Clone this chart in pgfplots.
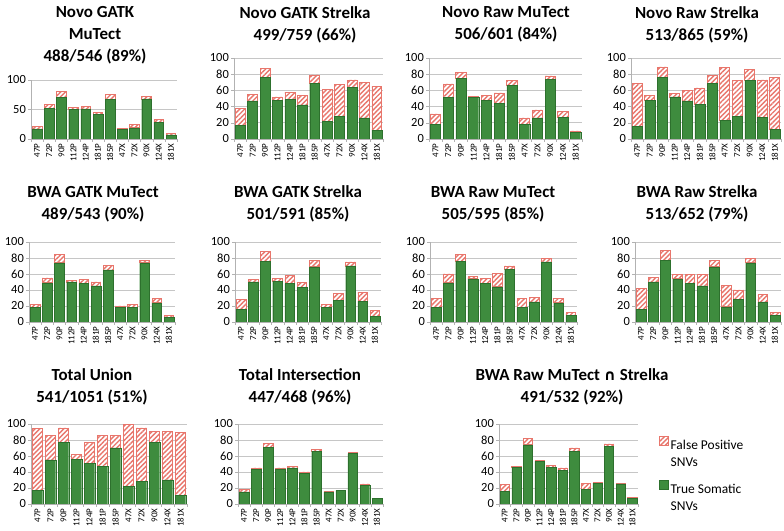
\documentclass[border=0pt]{standalone}
\usepackage{fontspec}
\setmainfont{Carlito}
\newfontfamily\symfont{DejaVu Sans}
\usepackage{pgfplots}
\pgfplotsset{compat=1.18}
\usetikzlibrary{patterns.meta}
\definecolor{tpgreen}{RGB}{62,140,62}
\definecolor{tpedge}{RGB}{45,112,45}
\definecolor{fpred}{RGB}{232,118,108}
\pgfplotsset{
 panel/.style={
  scale only axis,
  anchor=south west,
  ybar stacked,
  bar width=0.8,
  xmin=-0.5, xmax=11.5,
  ymin=0, ymax=100,
  xtick={0,...,11},
  xticklabels={47P,72P,90P,112P,124P,181P,185P,47X,72X,90X,124X,181X},
  x tick label style={rotate=90, anchor=east, font=\fontsize{9}{9}\selectfont, inner sep=1.5pt},
  y tick label style={font=\fontsize{12.5}{13}\selectfont, inner sep=2pt},
  /pgf/number format/assume math mode=true,
  axis x line*=bottom,
  axis y line*=left,
  axis line style={gray!60, line width=0.6pt},
  ymajorgrids,
  grid style={gray!45, line width=0.6pt},
  tick align=outside,
  major tick length=3pt,
  minor tick length=3pt,
  major x tick style={draw=none},
  minor xtick={-0.5,0.5,...,11.5},
  minor x tick style={gray!60},
  ytick style={gray!60},
  ytick={0,20,...,100},
 },
 tp/.style={fill=tpgreen, draw=tpedge, line width=0.4pt},
 fp/.style={draw=fpred, line width=0.6pt, preaction={fill=white}, pattern={Lines[angle=45,distance=3.4pt,line width=1.4pt]}, pattern color=fpred},
}
\tikzset{ttl/.style={font=\fontsize{17}{22}\selectfont\bfseries, align=center, inner sep=0pt}}
\begin{document}
\begin{tikzpicture}[x=1bp,y=1bp]
\useasboundingbox (0,0) rectangle (784,531);
% ---------- Row 1 ----------
\node[ttl] at (95,495.5) {Novo GATK\\MuTect\\488/546 (89\%)};
\node[ttl] at (305,506.5) {Novo GATK Strelka\\499/759 (66\%)};
\node[ttl] at (506,506.5) {Novo Raw MuTect\\506/601 (84\%)};
\node[ttl] at (697,506.5) {Novo Raw Strelka\\513/865 (59\%)};

\begin{axis}[panel, at={(31bp,392bp)}, width=146bp, height=59bp, ytick={0,50,100}]
\addplot[tp] coordinates {(0,17) (1,52) (2,71) (3,50) (4,51) (5,42) (6,67) (7,16) (8,19) (9,68) (10,28) (11,7)};
\addplot[fp] coordinates {(0,4) (1,6) (2,10) (3,3) (4,4) (5,3) (6,9) (7,2) (8,6) (9,4) (10,5) (11,2)};
\end{axis}

\begin{axis}[panel, at={(234bp,392bp)}, width=149bp, height=81bp]
\addplot[tp] coordinates {(0,17) (1,47) (2,76) (3,48) (4,49) (5,42) (6,69) (7,22) (8,28) (9,64) (10,26) (11,11)};
\addplot[fp] coordinates {(0,21) (1,8) (2,11) (3,4) (4,9) (5,12) (6,10) (7,39) (8,39) (9,9) (10,44) (11,54)};
\end{axis}

\begin{axis}[panel, at={(429bp,392bp)}, width=153bp, height=81bp]
\addplot[tp] coordinates {(0,18) (1,51) (2,75) (3,51) (4,48) (5,44) (6,66) (7,18) (8,26) (9,74) (10,27) (11,8)};
\addplot[fp] coordinates {(0,13) (1,17) (2,7) (3,2) (4,6) (5,13) (6,6) (7,8) (8,10) (9,4) (10,7) (11,2)};
\end{axis}

\begin{axis}[panel, at={(631bp,392bp)}, width=150bp, height=81bp]
\addplot[tp] coordinates {(0,16) (1,48) (2,76) (3,52) (4,47) (5,43) (6,69) (7,23) (8,28) (9,72) (10,27) (11,12)};
\addplot[fp] coordinates {(0,53) (1,6) (2,13) (3,4) (4,13) (5,20) (6,10) (7,65) (8,44) (9,14) (10,46) (11,64)};
\end{axis}

% ---------- Row 2 ----------
\node[ttl] at (93,327) {BWA GATK MuTect\\489/543 (90\%)};
\node[ttl] at (298,327) {BWA GATK Strelka\\501/591 (85\%)};
\node[ttl] at (493,327) {BWA Raw MuTect\\505/595 (85\%)};
\node[ttl] at (697,327) {BWA Raw Strelka\\513/652 (79\%)};

\begin{axis}[panel, at={(29bp,209bp)}, width=146bp, height=80bp]
\addplot[tp] coordinates {(0,18) (1,49) (2,74) (3,50) (4,48) (5,45) (6,65) (7,18) (8,18) (9,74) (10,24) (11,6)};
\addplot[fp] coordinates {(0,4) (1,6) (2,10) (3,2) (4,5) (5,5) (6,6) (7,2) (8,4) (9,3) (10,5) (11,2)};
\end{axis}

\begin{axis}[panel, at={(235bp,209bp)}, width=146bp, height=80bp]
\addplot[tp] coordinates {(0,16) (1,50) (2,76) (3,51) (4,48) (5,43) (6,69) (7,18) (8,27) (9,70) (10,26) (11,7)};
\addplot[fp] coordinates {(0,12) (1,3) (2,12) (3,3) (4,10) (5,6) (6,8) (7,4) (8,9) (9,5) (10,11) (11,7)};
\end{axis}

\begin{axis}[panel, at={(430bp,209bp)}, width=147bp, height=80bp]
\addplot[tp] coordinates {(0,18) (1,49) (2,76) (3,54) (4,48) (5,44) (6,66) (7,18) (8,25) (9,75) (10,24) (11,8)};
\addplot[fp] coordinates {(0,11) (1,11) (2,8) (3,3) (4,6) (5,17) (6,4) (7,11) (8,6) (9,4) (10,5) (11,4)};
\end{axis}

\begin{axis}[panel, at={(635bp,209bp)}, width=146bp, height=80bp]
\addplot[tp] coordinates {(0,16) (1,50) (2,77) (3,54) (4,48) (5,45) (6,69) (7,19) (8,28) (9,74) (10,25) (11,8)};
\addplot[fp] coordinates {(0,26) (1,6) (2,12) (3,5) (4,11) (5,14) (6,8) (7,27) (8,12) (9,5) (10,9) (11,4)};
\end{axis}

% ---------- Row 3 ----------
\node[ttl] at (92,144) {Total Union\\541/1051 (51\%)};
\node[ttl] at (300,144) {Total Intersection\\447/468 (96\%)};
\node[ttl] at (572,144) {BWA Raw MuTect {\symfont\fontsize{15}{22}\selectfont\bfseries ∩} Strelka\\491/532 (92\%)};

\begin{axis}[panel, at={(31bp,27bp)}, width=156bp, height=80bp]
\addplot[tp] coordinates {(0,17) (1,55) (2,77) (3,56) (4,51) (5,47) (6,70) (7,22) (8,28) (9,77) (10,30) (11,11)};
\addplot[fp] coordinates {(0,77) (1,31) (2,18) (3,6) (4,26) (5,39) (6,16) (7,77) (8,67) (9,14) (10,61) (11,78)};
\end{axis}

\begin{axis}[panel, at={(238bp,27bp)}, width=145bp, height=80bp]
\addplot[tp] coordinates {(0,15) (1,43) (2,71) (3,44) (4,45) (5,38) (6,66) (7,15) (8,17) (9,63) (10,23) (11,7)};
\addplot[fp] coordinates {(0,3) (1,2) (2,5) (3,1) (4,2) (5,2) (6,2) (7,1) (8,0) (9,1) (10,2) (11,0)};
\end{axis}

\begin{axis}[panel, at={(499bp,27bp)}, width=139bp, height=80bp,
  reverse legend,
  legend style={at={(1.15,0.86)}, anchor=north west, draw=none, fill=none, inner sep=0pt,
    font=\fontsize{13.5}{17}\selectfont, row sep=27bp, cells={anchor=west}},
  legend image code/.code={\draw[#1] (0bp,-1bp) rectangle (9bp,8bp);}]
\addplot[tp] coordinates {(0,16) (1,46) (2,74) (3,53) (4,46) (5,42) (6,66) (7,18) (8,26) (9,72) (10,25) (11,7)};
\addlegendentry{\begin{tabular}[t]{@{}l@{}}True Somatic\\SNVs\end{tabular}}
\addplot[fp] coordinates {(0,8) (1,1) (2,8) (3,1) (4,2) (5,3) (6,4) (7,8) (8,1) (9,3) (10,1) (11,1)};
\addlegendentry{\begin{tabular}[t]{@{}l@{}}False Positive\\SNVs\end{tabular}}
\end{axis}
\end{tikzpicture}
\end{document}
